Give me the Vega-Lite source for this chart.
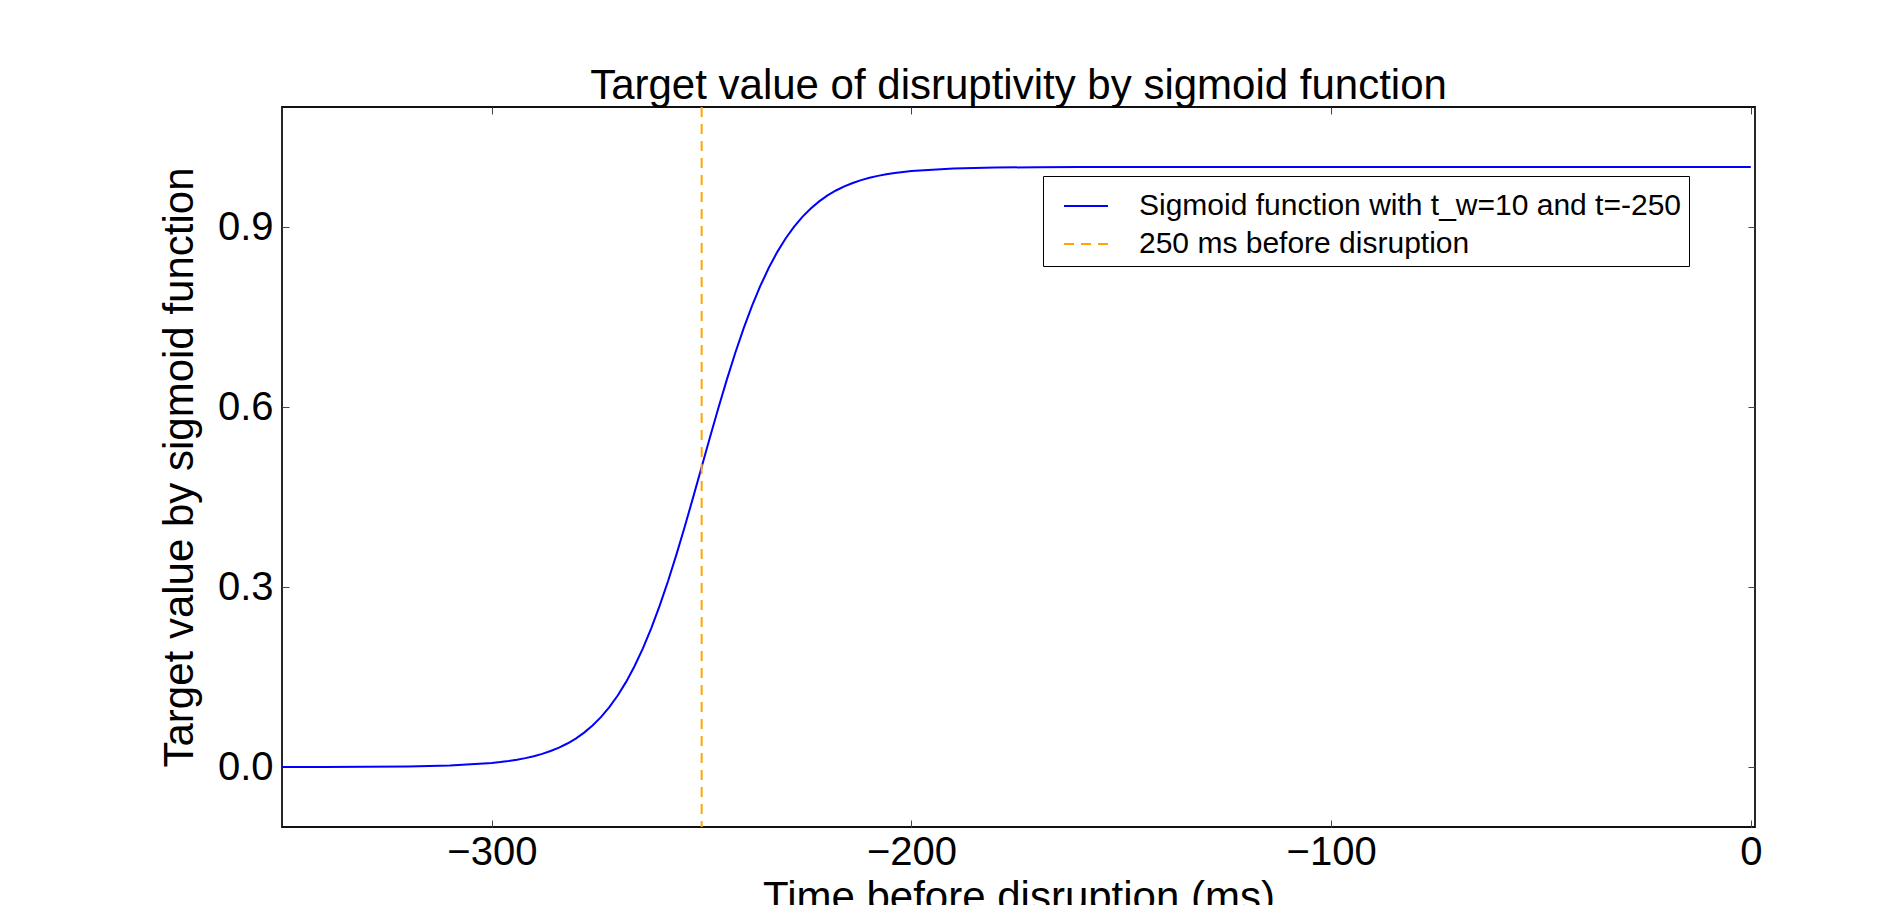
{
  "$schema": "https://vega.github.io/schema/vega-lite/v6.json",
  "width": 1473,
  "height": 720,
  "autosize": {"type": "none"},
  "padding": {"left": 282, "top": 107, "right": 144, "bottom": 78},
  "background": "white",
  "config": {
    "font": "Liberation Sans",
    "view": {"stroke": "#111", "strokeWidth": 1.8},
    "axis": {
      "domain": false,
      "grid": false,
      "tickSize": -7,
      "tickColor": "#444",
      "tickWidth": 1,
      "labelFont": "Liberation Sans",
      "labelFontSize": 40,
      "labelColor": "#000",
      "titleFont": "Liberation Sans",
      "titleFontSize": 42,
      "titleFontWeight": "normal",
      "titleColor": "#000"
    }
  },
  "title": {
    "text": "Target value of disruptivity by sigmoid function",
    "font": "Liberation Sans",
    "fontSize": 42,
    "fontWeight": "normal",
    "color": "#000",
    "offset": -2
  },
  "datasets": {
    "sig": [
      {"t": -350, "v": 0.00005}, {"t": -340, "v": 0.00012}, {"t": -330, "v": 0.00034},
      {"t": -320, "v": 0.00091}, {"t": -310, "v": 0.00247}, {"t": -300, "v": 0.00669},
      {"t": -298, "v": 0.00816}, {"t": -296, "v": 0.00995}, {"t": -294, "v": 0.01213},
      {"t": -292, "v": 0.01477}, {"t": -290, "v": 0.01799}, {"t": -288, "v": 0.02188},
      {"t": -286, "v": 0.0266}, {"t": -284, "v": 0.0323}, {"t": -282, "v": 0.03917},
      {"t": -280, "v": 0.04743}, {"t": -278, "v": 0.05732}, {"t": -276, "v": 0.06914},
      {"t": -274, "v": 0.08317}, {"t": -272, "v": 0.09975}, {"t": -270, "v": 0.1192},
      {"t": -268, "v": 0.14185}, {"t": -266, "v": 0.16798}, {"t": -264, "v": 0.19782},
      {"t": -262, "v": 0.23148}, {"t": -260, "v": 0.26894}, {"t": -258, "v": 0.31003},
      {"t": -256, "v": 0.35434}, {"t": -254, "v": 0.40131}, {"t": -252, "v": 0.45017},
      {"t": -250, "v": 0.5}, {"t": -248, "v": 0.54983}, {"t": -246, "v": 0.59869},
      {"t": -244, "v": 0.64566}, {"t": -242, "v": 0.68997}, {"t": -240, "v": 0.73106},
      {"t": -238, "v": 0.76852}, {"t": -236, "v": 0.80218}, {"t": -234, "v": 0.83202},
      {"t": -232, "v": 0.85815}, {"t": -230, "v": 0.8808}, {"t": -228, "v": 0.90025},
      {"t": -226, "v": 0.91683}, {"t": -224, "v": 0.93086}, {"t": -222, "v": 0.94268},
      {"t": -220, "v": 0.95257}, {"t": -218, "v": 0.96083}, {"t": -216, "v": 0.9677},
      {"t": -214, "v": 0.9734}, {"t": -212, "v": 0.97812}, {"t": -210, "v": 0.98201},
      {"t": -208, "v": 0.98523}, {"t": -206, "v": 0.98787}, {"t": -204, "v": 0.99005},
      {"t": -202, "v": 0.99184}, {"t": -200, "v": 0.99331}, {"t": -190, "v": 0.99753},
      {"t": -180, "v": 0.99909}, {"t": -170, "v": 0.99966}, {"t": -160, "v": 0.99988},
      {"t": -150, "v": 0.99995}, {"t": -125, "v": 1.0}, {"t": -100, "v": 1.0},
      {"t": -50, "v": 1.0}, {"t": 0, "v": 1.0}
    ],
    "vline": [{"t": -250}]
  },
  "layer": [
    {
      "data": {"name": "sig"},
      "mark": {"type": "line", "strokeWidth": 2},
      "encoding": {
        "x": {
          "field": "t",
          "type": "quantitative",
          "scale": {"domain": [-350, 1], "nice": false, "zero": false},
          "axis": {
            "orient": "bottom",
            "values": [-300, -200, -100, 0],
            "title": "Time before disruption (ms)",
            "labelPadding": 12,
            "titlePadding": 5
          }
        },
        "y": {
          "field": "v",
          "type": "quantitative",
          "scale": {"domain": [-0.1, 1.1], "nice": false, "zero": false},
          "axis": {
            "orient": "left",
            "values": [0, 0.3, 0.6, 0.9],
            "format": ".1f",
            "title": "Target value by sigmoid function",
            "labelPadding": 16,
            "titlePadding": 16
          }
        },
        "color": {
          "datum": "Sigmoid function with t_w=10 and t=-250",
          "type": "nominal",
          "scale": {
            "domain": ["Sigmoid function with t_w=10 and t=-250", "250 ms before disruption"],
            "range": ["#0000ff", "#ffa500"]
          },
          "legend": {
            "orient": "none",
            "legendX": 761,
            "legendY": 69,
            "title": null,
            "symbolType": "stroke",
            "symbolSize": 1936,
            "symbolStrokeWidth": 2,
            "symbolOffset": 13,
            "labelFont": "Liberation Sans",
            "labelFontSize": 30,
            "labelColor": "#000",
            "labelLimit": 0,
            "labelOffset": 30,
            "strokeColor": "#000",
            "fillColor": "#fff",
            "padding": 7,
            "rowPadding": -5,
            "cornerRadius": 0,
            "encode": {
              "symbols": {
                "update": {
                  "strokeDash": {"signal": "datum.value === '250 ms before disruption' ? [10, 7] : [1, 0]"}
                }
              }
            }
          }
        }
      }
    },
    {
      "data": {"name": "vline"},
      "mark": {"type": "rule", "strokeWidth": 2, "strokeDash": [10, 7]},
      "encoding": {
        "x": {"field": "t", "type": "quantitative", "axis": null},
        "color": {"datum": "250 ms before disruption", "type": "nominal"}
      }
    },
    {
      "data": {"name": "sig"},
      "mark": {"type": "line", "opacity": 0},
      "encoding": {
        "x": {
          "field": "t",
          "type": "quantitative",
          "axis": {"orient": "top", "labels": false, "title": null, "values": [-300, -200, -100, 0]}
        },
        "y": {
          "field": "v",
          "type": "quantitative",
          "axis": {"orient": "right", "labels": false, "title": null, "values": [0, 0.3, 0.6, 0.9]}
        }
      }
    }
  ],
  "resolve": {"axis": {"x": "independent", "y": "independent"}}
}
